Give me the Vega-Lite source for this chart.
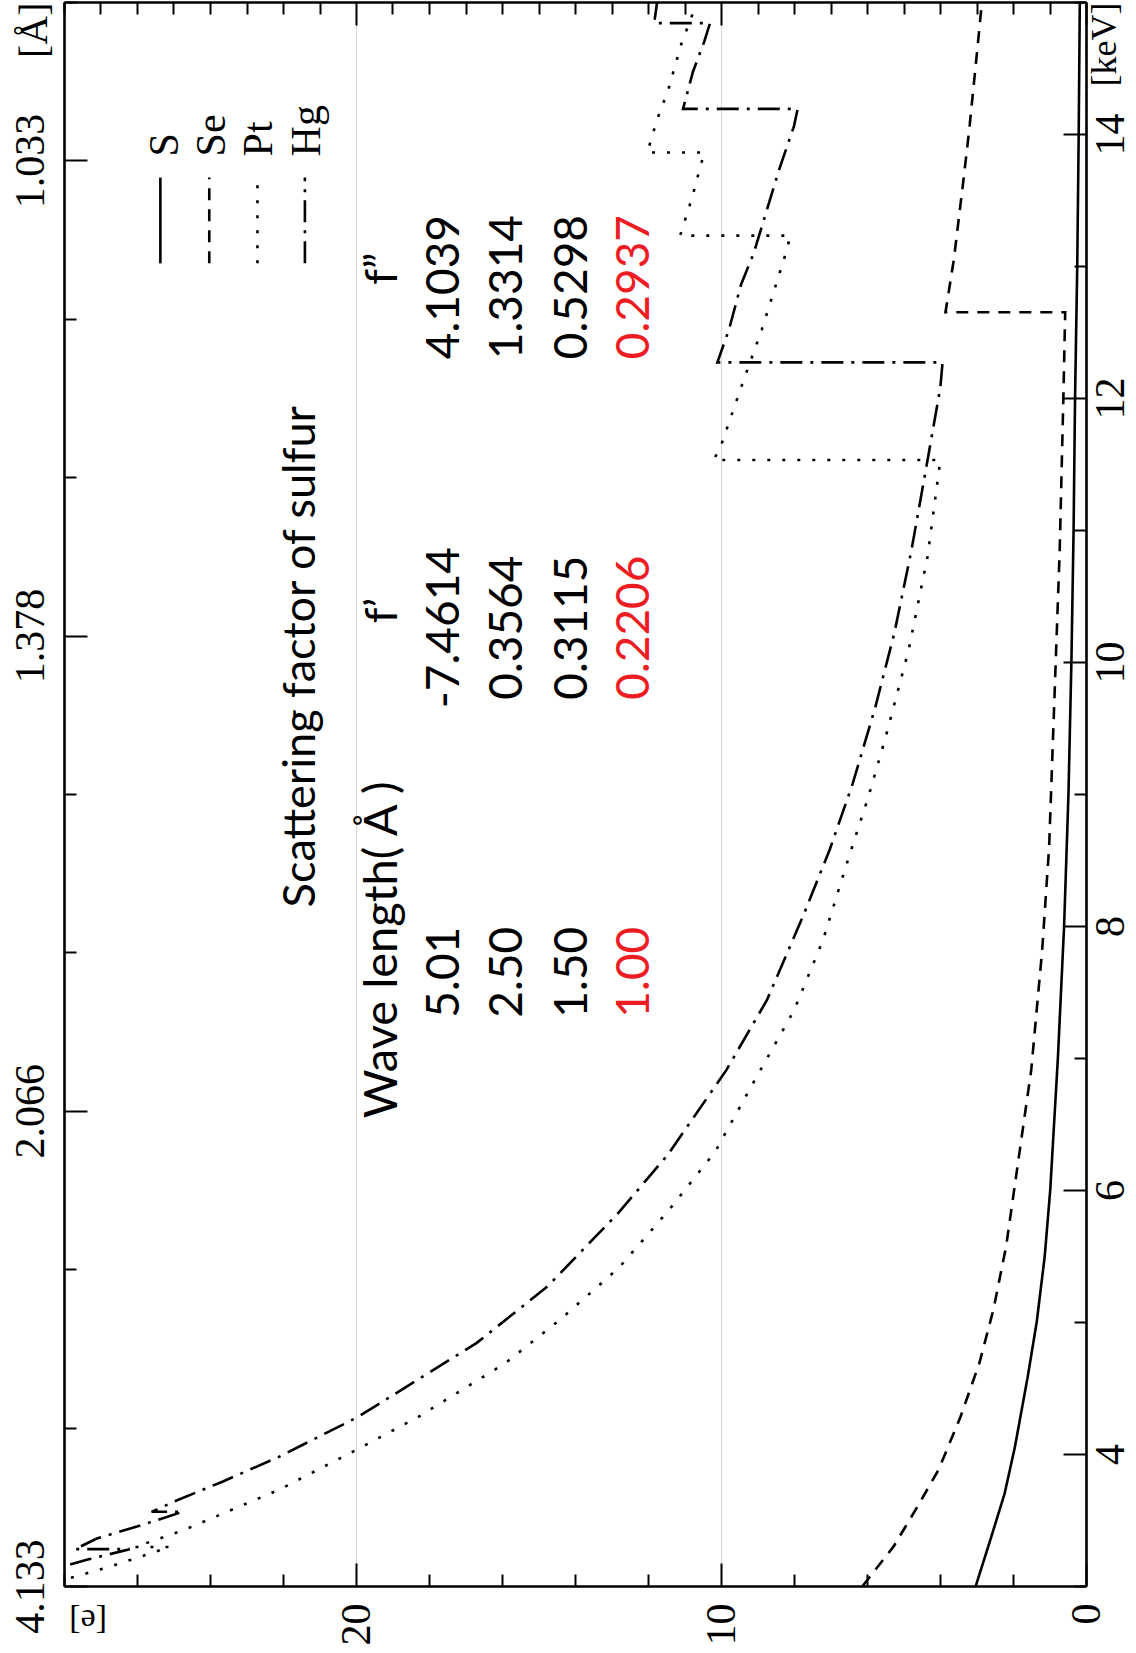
{
  "$schema": "https://vega.github.io/schema/vega-lite/v6.json",
  "width": 1022,
  "height": 1584,
  "autosize": {"type": "none"},
  "padding": {"left": 64, "top": 2, "right": 50, "bottom": 67},
  "background": "white",
  "config": {
    "view": {"stroke": null},
    "axis": {"domainColor": "black", "domainWidth": 2.6, "tickColor": "black", "tickWidth": 2, "labelFont": "Liberation Serif", "labelFontSize": 42, "labelColor": "black", "labelOverlap": false, "labelBound": false, "labelFlush": false}
  },
  "datasets": {
    "curves": [
      {"s": "S", "i": 0, "E": 3.0, "f": 3.02}, {"s": "S", "i": 1, "E": 3.35, "f": 2.62}, {"s": "S", "i": 2, "E": 3.7, "f": 2.23}, {"s": "S", "i": 3, "E": 4.05, "f": 1.95}, {"s": "S", "i": 4, "E": 4.58, "f": 1.6}, {"s": "S", "i": 5, "E": 5.0, "f": 1.35}, {"s": "S", "i": 6, "E": 5.5, "f": 1.13}, {"s": "S", "i": 7, "E": 6.0, "f": 0.98}, {"s": "S", "i": 8, "E": 7.0, "f": 0.77}, {"s": "S", "i": 9, "E": 8.0, "f": 0.6}, {"s": "S", "i": 10, "E": 9.0, "f": 0.48}, {"s": "S", "i": 11, "E": 10.0, "f": 0.4}, {"s": "S", "i": 12, "E": 11.0, "f": 0.34}, {"s": "S", "i": 13, "E": 12.0, "f": 0.3}, {"s": "S", "i": 14, "E": 13.0, "f": 0.24}, {"s": "S", "i": 15, "E": 14.0, "f": 0.2}, {"s": "S", "i": 16, "E": 15.0, "f": 0.17},
      {"s": "Se", "i": 0, "E": 3.0, "f": 6.12}, {"s": "Se", "i": 1, "E": 3.3, "f": 5.27}, {"s": "Se", "i": 2, "E": 3.6, "f": 4.62}, {"s": "Se", "i": 3, "E": 3.88, "f": 4.04}, {"s": "Se", "i": 4, "E": 4.28, "f": 3.44}, {"s": "Se", "i": 5, "E": 4.69, "f": 2.92}, {"s": "Se", "i": 6, "E": 5.09, "f": 2.54}, {"s": "Se", "i": 7, "E": 5.57, "f": 2.19}, {"s": "Se", "i": 8, "E": 6.27, "f": 1.83}, {"s": "Se", "i": 9, "E": 6.91, "f": 1.5}, {"s": "Se", "i": 10, "E": 7.82, "f": 1.2}, {"s": "Se", "i": 11, "E": 8.6, "f": 1.01}, {"s": "Se", "i": 12, "E": 9.84, "f": 0.85}, {"s": "Se", "i": 13, "E": 10.85, "f": 0.72}, {"s": "Se", "i": 14, "E": 12.0, "f": 0.62}, {"s": "Se", "i": 15, "E": 12.65, "f": 0.57}, {"s": "Se", "i": 16, "E": 12.65, "f": 3.85}, {"s": "Se", "i": 17, "E": 13.05, "f": 3.62}, {"s": "Se", "i": 18, "E": 13.67, "f": 3.35}, {"s": "Se", "i": 19, "E": 14.03, "f": 3.2}, {"s": "Se", "i": 20, "E": 14.58, "f": 3.0}, {"s": "Se", "i": 21, "E": 15.0, "f": 2.85},
      {"s": "Pt", "i": 0, "E": 3.0, "f": 28.6}, {"s": "Pt", "i": 1, "E": 3.15, "f": 26.7}, {"s": "Pt", "i": 2, "E": 3.296, "f": 25.1}, {"s": "Pt", "i": 3, "E": 3.296, "f": 26.05}, {"s": "Pt", "i": 4, "E": 3.42, "f": 24.75}, {"s": "Pt", "i": 5, "E": 3.73, "f": 22.1}, {"s": "Pt", "i": 6, "E": 4.03, "f": 20.0}, {"s": "Pt", "i": 7, "E": 4.28, "f": 18.3}, {"s": "Pt", "i": 8, "E": 4.69, "f": 15.9}, {"s": "Pt", "i": 9, "E": 5.02, "f": 14.4}, {"s": "Pt", "i": 10, "E": 5.41, "f": 12.8}, {"s": "Pt", "i": 11, "E": 5.85, "f": 11.42}, {"s": "Pt", "i": 12, "E": 6.29, "f": 10.16}, {"s": "Pt", "i": 13, "E": 6.86, "f": 9.02}, {"s": "Pt", "i": 14, "E": 7.36, "f": 8.0}, {"s": "Pt", "i": 15, "E": 7.89, "f": 7.21}, {"s": "Pt", "i": 16, "E": 8.52, "f": 6.5}, {"s": "Pt", "i": 17, "E": 8.98, "f": 5.96}, {"s": "Pt", "i": 18, "E": 9.43, "f": 5.49}, {"s": "Pt", "i": 19, "E": 10.09, "f": 4.86}, {"s": "Pt", "i": 20, "E": 10.8, "f": 4.34}, {"s": "Pt", "i": 21, "E": 11.53, "f": 3.99}, {"s": "Pt", "i": 22, "E": 11.53, "f": 10.2}, {"s": "Pt", "i": 23, "E": 11.64, "f": 10.0}, {"s": "Pt", "i": 24, "E": 12.08, "f": 9.45}, {"s": "Pt", "i": 25, "E": 12.52, "f": 8.88}, {"s": "Pt", "i": 26, "E": 13.1, "f": 8.22}, {"s": "Pt", "i": 27, "E": 13.23, "f": 8.1}, {"s": "Pt", "i": 28, "E": 13.23, "f": 11.12}, {"s": "Pt", "i": 29, "E": 13.52, "f": 10.79}, {"s": "Pt", "i": 30, "E": 13.86, "f": 10.46}, {"s": "Pt", "i": 31, "E": 13.86, "f": 12.02}, {"s": "Pt", "i": 32, "E": 14.11, "f": 11.75}, {"s": "Pt", "i": 33, "E": 14.33, "f": 11.45}, {"s": "Pt", "i": 34, "E": 14.68, "f": 11.09}, {"s": "Pt", "i": 35, "E": 14.9, "f": 10.79}, {"s": "Pt", "i": 36, "E": 15.0, "f": 10.7},
      {"s": "Hg", "i": 0, "E": 3.0, "f": 30.0}, {"s": "Hg", "i": 1, "E": 3.15, "f": 28.0}, {"s": "Hg", "i": 2, "E": 3.2, "f": 27.35}, {"s": "Hg", "i": 3, "E": 3.279, "f": 26.2}, {"s": "Hg", "i": 4, "E": 3.279, "f": 27.7}, {"s": "Hg", "i": 5, "E": 3.36, "f": 27.1}, {"s": "Hg", "i": 6, "E": 3.45, "f": 26.0}, {"s": "Hg", "i": 7, "E": 3.562, "f": 24.75}, {"s": "Hg", "i": 8, "E": 3.562, "f": 25.6}, {"s": "Hg", "i": 9, "E": 3.65, "f": 24.9}, {"s": "Hg", "i": 10, "E": 3.79, "f": 23.66}, {"s": "Hg", "i": 11, "E": 3.98, "f": 22.1}, {"s": "Hg", "i": 12, "E": 4.28, "f": 19.95}, {"s": "Hg", "i": 13, "E": 4.84, "f": 16.7}, {"s": "Hg", "i": 14, "E": 5.27, "f": 14.75}, {"s": "Hg", "i": 15, "E": 5.83, "f": 12.8}, {"s": "Hg", "i": 16, "E": 6.27, "f": 11.45}, {"s": "Hg", "i": 17, "E": 6.91, "f": 9.85}, {"s": "Hg", "i": 18, "E": 7.44, "f": 8.74}, {"s": "Hg", "i": 19, "E": 8.07, "f": 7.76}, {"s": "Hg", "i": 20, "E": 8.58, "f": 7.02}, {"s": "Hg", "i": 21, "E": 9.08, "f": 6.39}, {"s": "Hg", "i": 22, "E": 9.66, "f": 5.77}, {"s": "Hg", "i": 23, "E": 10.22, "f": 5.25}, {"s": "Hg", "i": 24, "E": 10.85, "f": 4.78}, {"s": "Hg", "i": 25, "E": 11.5, "f": 4.36}, {"s": "Hg", "i": 26, "E": 12.08, "f": 3.99}, {"s": "Hg", "i": 27, "E": 12.27, "f": 3.93}, {"s": "Hg", "i": 28, "E": 12.27, "f": 10.1}, {"s": "Hg", "i": 29, "E": 12.52, "f": 9.78}, {"s": "Hg", "i": 30, "E": 12.86, "f": 9.45}, {"s": "Hg", "i": 31, "E": 13.1, "f": 9.1}, {"s": "Hg", "i": 32, "E": 13.72, "f": 8.42}, {"s": "Hg", "i": 33, "E": 14.06, "f": 8.0}, {"s": "Hg", "i": 34, "E": 14.19, "f": 7.9}, {"s": "Hg", "i": 35, "E": 14.19, "f": 11.04}, {"s": "Hg", "i": 36, "E": 14.47, "f": 10.77}, {"s": "Hg", "i": 37, "E": 14.7, "f": 10.46}, {"s": "Hg", "i": 38, "E": 14.84, "f": 10.3}, {"s": "Hg", "i": 39, "E": 14.84, "f": 11.83}, {"s": "Hg", "i": 40, "E": 15.0, "f": 11.75}
    ]
  },
  "layer": [
    {
      "layer": [
        {
          "data": {"name": "curves"},
          "mark": {"type": "line", "color": "black", "strokeWidth": 2.6, "clip": true},
          "encoding": {
            "x": {"field": "f", "type": "quantitative",
              "scale": {"domain": [0, 28], "reverse": true, "nice": false, "zero": false},
              "axis": {"orient": "bottom", "title": null,
                "values": [0,1,2,3,4,5,6,7,8,9,10,11,12,13,14,15,16,17,18,19,20,21,22,23,24,25,26,27,28],
                "labelExpr": "datum.value % 10 == 0 ? format(datum.value, 'd') : ''",
                "labelAngle": -90, "labelPadding": 40,
                "tickSize": {"condition": {"test": "datum.value % 10 == 0", "value": -23}, "value": -12},
                "grid": true, "gridColor": "#d9d9d9", "gridWidth": 1.2,
                "gridOpacity": {"condition": {"test": "datum.value % 5 == 0 && datum.value > 0", "value": 1}, "value": 0}}},
            "y": {"field": "E", "type": "quantitative",
              "scale": {"domain": [3, 15], "nice": false, "zero": false},
              "axis": {"orient": "right", "title": null, "grid": false,
                "values": [3,4,5,6,7,8,9,10,11,12,13,14,15],
                "labelExpr": "datum.value == 15 ? '[keV]' : (datum.value % 2 == 0 ? format(datum.value, 'd') : '')",
                "labelAngle": -90,
                "labelAlign": {"condition": {"test": "datum.value == 15", "value": "right"}, "value": "center"},
                "labelFontSize": {"condition": {"test": "datum.value == 15", "value": 36}, "value": 42},
                "labelPadding": {"condition": {"test": "datum.value % 2 == 0", "value": 27}, "value": 13},
                "tickSize": {"condition": {"test": "datum.value % 2 == 0", "value": -23}, "value": -12}}},
            "strokeDash": {"field": "s", "type": "nominal", "legend": null,
              "scale": {"domain": ["S", "Se", "Pt", "Hg"], "range": [[1, 0], [12, 9], [3, 12], [22, 8, 3, 8]]}},
            "order": {"field": "i", "type": "quantitative"}
          }
        },
        {"data": {"values": [{}]}, "mark": {"type": "rule", "color": "black", "strokeWidth": 2.6}, "encoding": {"x": {"datum": 25.36, "type": "quantitative"}, "y": {"datum": 13.02, "type": "quantitative"}, "y2": {"datum": 13.67}}},
        {"data": {"values": [{}]}, "mark": {"type": "rule", "color": "black", "strokeWidth": 2.6, "strokeDash": [12, 9]}, "encoding": {"x": {"datum": 24.02, "type": "quantitative"}, "y": {"datum": 13.02, "type": "quantitative"}, "y2": {"datum": 13.67}}},
        {"data": {"values": [{}]}, "mark": {"type": "rule", "color": "black", "strokeWidth": 2.6, "strokeDash": [3, 12]}, "encoding": {"x": {"datum": 22.7, "type": "quantitative"}, "y": {"datum": 13.02, "type": "quantitative"}, "y2": {"datum": 13.67}}},
        {"data": {"values": [{}]}, "mark": {"type": "rule", "color": "black", "strokeWidth": 2.6, "strokeDash": [22, 8, 3, 8]}, "encoding": {"x": {"datum": 21.4, "type": "quantitative"}, "y": {"datum": 13.02, "type": "quantitative"}, "y2": {"datum": 13.67}}},
        {"data": {"values": [{}]}, "mark": {"type": "text", "text": "S", "angle": -90, "align": "left", "baseline": "alphabetic", "font": "Liberation Serif", "fontSize": 42, "color": "black"}, "encoding": {"x": {"datum": 24.89, "type": "quantitative"}, "y": {"datum": 13.83, "type": "quantitative"}}},
        {"data": {"values": [{}]}, "mark": {"type": "text", "text": "Se", "angle": -90, "align": "left", "baseline": "alphabetic", "font": "Liberation Serif", "fontSize": 42, "color": "black"}, "encoding": {"x": {"datum": 23.6, "type": "quantitative"}, "y": {"datum": 13.83, "type": "quantitative"}}},
        {"data": {"values": [{}]}, "mark": {"type": "text", "text": "Pt", "angle": -90, "align": "left", "baseline": "alphabetic", "font": "Liberation Serif", "fontSize": 42, "color": "black"}, "encoding": {"x": {"datum": 22.3, "type": "quantitative"}, "y": {"datum": 13.83, "type": "quantitative"}}},
        {"data": {"values": [{}]}, "mark": {"type": "text", "text": "Hg", "angle": -90, "align": "left", "baseline": "alphabetic", "font": "Liberation Serif", "fontSize": 42, "color": "black"}, "encoding": {"x": {"datum": 21.0, "type": "quantitative"}, "y": {"datum": 13.83, "type": "quantitative"}}},
        {"data": {"values": [{}]}, "mark": {"type": "text", "text": "[e]", "angle": 180, "align": "center", "baseline": "middle", "font": "Liberation Serif", "fontSize": 34, "color": "black"}, "encoding": {"x": {"datum": 27.34, "type": "quantitative"}, "y": {"datum": 2.74, "type": "quantitative"}}},
        {"data": {"values": [{}]}, "mark": {"type": "text", "text": "Scattering factor of sulfur", "angle": -90, "align": "center", "baseline": "alphabetic", "font": "Lato", "fontSize": 45, "color": "black"}, "encoding": {"x": {"datum": 21.12, "type": "quantitative"}, "y": {"datum": 10.04, "type": "quantitative"}}},
        {"data": {"values": [{}]}, "mark": {"type": "text", "text": "Wave length( Å )", "angle": -90, "align": "center", "baseline": "alphabetic", "font": "Lato", "fontSize": 47, "color": "black"}, "encoding": {"x": {"datum": 18.88, "type": "quantitative"}, "y": {"datum": 7.82, "type": "quantitative"}}},
        {"data": {"values": [{}]}, "mark": {"type": "text", "text": "f’", "angle": -90, "align": "center", "baseline": "alphabetic", "font": "Lato", "fontSize": 45, "color": "black"}, "encoding": {"x": {"datum": 18.88, "type": "quantitative"}, "y": {"datum": 10.39, "type": "quantitative"}}},
        {"data": {"values": [{}]}, "mark": {"type": "text", "text": "f”", "angle": -90, "align": "center", "baseline": "alphabetic", "font": "Lato", "fontSize": 45, "color": "black"}, "encoding": {"x": {"datum": 18.88, "type": "quantitative"}, "y": {"datum": 12.98, "type": "quantitative"}}},
        {"data": {"values": [{}]}, "mark": {"type": "text", "text": "5.01", "angle": -90, "align": "center", "baseline": "alphabetic", "font": "Lato", "fontSize": 46, "color": "black"}, "encoding": {"x": {"datum": 17.19, "type": "quantitative"}, "y": {"datum": 7.65, "type": "quantitative"}}},
        {"data": {"values": [{}]}, "mark": {"type": "text", "text": "-7.4614", "angle": -90, "align": "center", "baseline": "alphabetic", "font": "Lato", "fontSize": 46, "color": "black"}, "encoding": {"x": {"datum": 17.19, "type": "quantitative"}, "y": {"datum": 10.26, "type": "quantitative"}}},
        {"data": {"values": [{}]}, "mark": {"type": "text", "text": "4.1039", "angle": -90, "align": "center", "baseline": "alphabetic", "font": "Lato", "fontSize": 46, "color": "black"}, "encoding": {"x": {"datum": 17.19, "type": "quantitative"}, "y": {"datum": 12.84, "type": "quantitative"}}},
        {"data": {"values": [{}]}, "mark": {"type": "text", "text": "2.50", "angle": -90, "align": "center", "baseline": "alphabetic", "font": "Lato", "fontSize": 46, "color": "black"}, "encoding": {"x": {"datum": 15.46, "type": "quantitative"}, "y": {"datum": 7.65, "type": "quantitative"}}},
        {"data": {"values": [{}]}, "mark": {"type": "text", "text": "0.3564", "angle": -90, "align": "center", "baseline": "alphabetic", "font": "Lato", "fontSize": 46, "color": "black"}, "encoding": {"x": {"datum": 15.46, "type": "quantitative"}, "y": {"datum": 10.26, "type": "quantitative"}}},
        {"data": {"values": [{}]}, "mark": {"type": "text", "text": "1.3314", "angle": -90, "align": "center", "baseline": "alphabetic", "font": "Lato", "fontSize": 46, "color": "black"}, "encoding": {"x": {"datum": 15.46, "type": "quantitative"}, "y": {"datum": 12.84, "type": "quantitative"}}},
        {"data": {"values": [{}]}, "mark": {"type": "text", "text": "1.50", "angle": -90, "align": "center", "baseline": "alphabetic", "font": "Lato", "fontSize": 46, "color": "black"}, "encoding": {"x": {"datum": 13.66, "type": "quantitative"}, "y": {"datum": 7.65, "type": "quantitative"}}},
        {"data": {"values": [{}]}, "mark": {"type": "text", "text": "0.3115", "angle": -90, "align": "center", "baseline": "alphabetic", "font": "Lato", "fontSize": 46, "color": "black"}, "encoding": {"x": {"datum": 13.66, "type": "quantitative"}, "y": {"datum": 10.26, "type": "quantitative"}}},
        {"data": {"values": [{}]}, "mark": {"type": "text", "text": "0.5298", "angle": -90, "align": "center", "baseline": "alphabetic", "font": "Lato", "fontSize": 46, "color": "black"}, "encoding": {"x": {"datum": 13.66, "type": "quantitative"}, "y": {"datum": 12.84, "type": "quantitative"}}},
        {"data": {"values": [{}]}, "mark": {"type": "text", "text": "1.00", "angle": -90, "align": "center", "baseline": "alphabetic", "font": "Lato", "fontSize": 46, "color": "#ee1d23"}, "encoding": {"x": {"datum": 11.97, "type": "quantitative"}, "y": {"datum": 7.65, "type": "quantitative"}}},
        {"data": {"values": [{}]}, "mark": {"type": "text", "text": "0.2206", "angle": -90, "align": "center", "baseline": "alphabetic", "font": "Lato", "fontSize": 46, "color": "#ee1d23"}, "encoding": {"x": {"datum": 11.97, "type": "quantitative"}, "y": {"datum": 10.26, "type": "quantitative"}}},
        {"data": {"values": [{}]}, "mark": {"type": "text", "text": "0.2937", "angle": -90, "align": "center", "baseline": "alphabetic", "font": "Lato", "fontSize": 46, "color": "#ee1d23"}, "encoding": {"x": {"datum": 11.97, "type": "quantitative"}, "y": {"datum": 12.84, "type": "quantitative"}}}
      ]
    },
    {
      "data": {"values": [{"E": 3, "f": 0}, {"E": 13, "f": 28}]},
      "mark": {"type": "point", "opacity": 0},
      "encoding": {
        "x": {"field": "f", "type": "quantitative",
          "axis": {"orient": "top", "title": null, "labels": false, "grid": false,
            "values": [0,1,2,3,4,5,6,7,8,9,10,11,12,13,14,15,16,17,18,19,20,21,22,23,24,25,26,27,28],
            "tickSize": {"condition": {"test": "datum.value % 10 == 0", "value": -23}, "value": -12}}},
        "y": {"field": "E", "type": "quantitative",
          "scale": {"domain": [3, 13], "nice": false, "zero": false},
          "axis": {"orient": "left", "title": null, "grid": false,
            "values": [3,4,5,6,7,8,9,10,11,12,13],
            "labelExpr": "datum.value == 13 ? '[Å]' : (datum.value % 3 == 0 ? format(12.398 / datum.value, '.3f') : '')",
            "labelAngle": -90,
            "labelAlign": {"condition": {"test": "datum.value == 13", "value": "right"}, "value": "center"},
            "labelFontSize": {"condition": {"test": "datum.value == 13", "value": 40}, "value": 42},
            "labelPadding": {"condition": {"test": "datum.value % 3 == 0", "value": 35}, "value": 22},
            "tickSize": {"condition": {"test": "datum.value % 3 == 0", "value": -23}, "value": -12}}}
      }
    }
  ],
  "resolve": {"scale": {"y": "independent"}, "axis": {"x": "independent", "y": "independent"}}
}
